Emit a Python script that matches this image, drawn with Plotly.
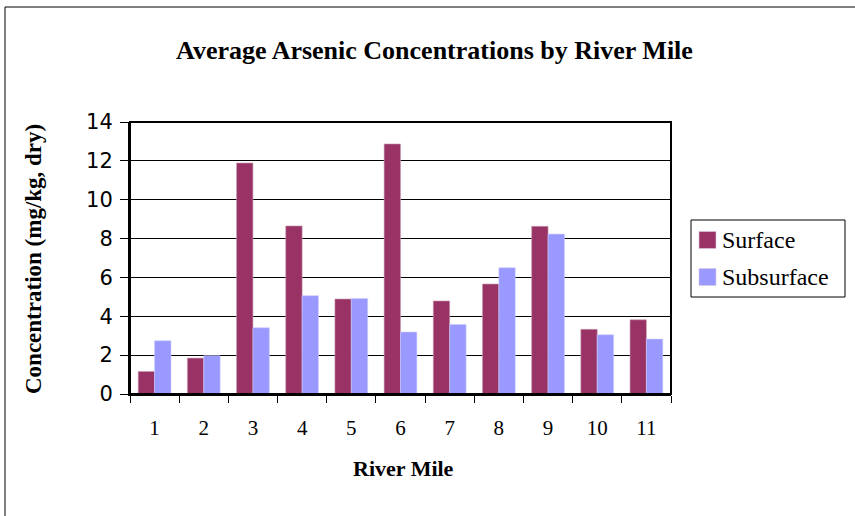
import plotly.graph_objects as go

# Average arsenic concentration (mg/kg, dry) per river mile
river_miles = ["1", "2", "3", "4", "5", "6", "7", "8", "9", "10", "11"]
surface = [1.16, 1.85, 11.89, 8.65, 4.89, 12.87, 4.79, 5.66, 8.63, 3.33, 3.82]
subsurface = [2.74, 1.97, 3.41, 5.06, 4.92, 3.19, 3.58, 6.50, 8.23, 3.05, 2.83]
y_ticks = [0, 2, 4, 6, 8, 10, 12, 14]
series_names = ["Surface", "Subsurface"]
series_colors = ["#993366", "#9999ff"]

SERIF = "Liberation Serif, Times New Roman, serif"
SANS = "DejaVu Sans, Arial, sans-serif"

W, H = 855, 516
ML, MR, MT, MB = 130, 184, 122, 122
PW, PH = W - ML - MR, H - MT - MB


def px(x):
    """Page pixel column -> paper x."""
    return (x - ML) / PW


def py(y):
    """Page pixel row -> paper y."""
    return (H - MB - y) / PH


fig = go.Figure()
fig.add_trace(go.Bar(x=river_miles, y=surface, name=series_names[0], showlegend=False,
                     marker=dict(color=series_colors[0], line=dict(color="#c8a0b4", width=0.6))))
fig.add_trace(go.Bar(x=river_miles, y=subsurface, name=series_names[1], showlegend=False,
                     marker=dict(color=series_colors[1], line=dict(color="#ccccff", width=0.6))))

fig.update_layout(
    width=W, height=H,
    margin=dict(l=ML, r=MR, t=MT, b=MB),
    paper_bgcolor="white", plot_bgcolor="white",
    barmode="group", bargap=1/3, bargroupgap=0,
    title=dict(text="<b>Average Arsenic Concentrations by River Mile</b>",
               x=434.5 / W, xanchor="center", y=1 - 50 / H, yanchor="middle",
               font=dict(family=SERIF, size=26, color="black")),
    showlegend=False,
)

fig.update_xaxes(type="category", showline=True, linecolor="black", linewidth=2,
                 ticks="outside", tickson="boundaries", ticklen=7,
                 tickcolor="black", tickwidth=1, showgrid=False, ticklabelstandoff=14,
                 tickfont=dict(family=SERIF, size=21, color="black"))
fig.update_yaxes(range=[0, 14], tickvals=y_ticks, showline=True, linecolor="black",
                 linewidth=2, ticks="outside", ticklen=8, tickcolor="black",
                 showgrid=True, gridcolor="black", gridwidth=1, zeroline=False,
                 ticklabelstandoff=3,
                 tickfont=dict(family=SANS, size=21, color="black"))

# Plot-area frame on top and right
fig.add_shape(type="rect", xref="paper", yref="paper", x0=0, x1=1, y0=0, y1=1,
              line=dict(color="black", width=2), layer="above")

# Outer chart border (runs off the right and bottom of the page)
fig.add_shape(type="rect", xref="paper", yref="paper",
              x0=px(5), x1=px(W + 20), y0=py(H + 20), y1=py(7),
              line=dict(color="black", width=1))

# Legend box with square swatches
fig.add_shape(type="rect", xref="paper", yref="paper",
              x0=px(691), x1=px(845), y0=py(297), y1=py(220),
              line=dict(color="black", width=1), fillcolor="white")
legend_rows = [240, 277]
for name, color, yc in zip(series_names, series_colors, legend_rows):
    fig.add_shape(type="rect", xref="paper", yref="paper",
                  x0=px(699), x1=px(716), y0=py(yc + 8.5), y1=py(yc - 8.5),
                  line=dict(color="#d8c8e0", width=0.6), fillcolor=color)
    fig.add_annotation(text=name, xref="paper", yref="paper", x=px(720), y=py(yc),
                       xanchor="left", yanchor="middle", showarrow=False,
                       font=dict(family=SERIF, size=24, color="black"))

fig.add_annotation(text="<b>Concentration (mg/kg, dry)</b>", textangle=-90,
                   xref="paper", yref="paper", x=px(33), y=py(259),
                   xanchor="center", yanchor="middle", showarrow=False,
                   font=dict(family=SERIF, size=23, color="black"))
fig.add_annotation(text="<b>River Mile</b>",
                   xref="paper", yref="paper", x=px(403.5), y=py(468),
                   xanchor="center", yanchor="middle", showarrow=False,
                   font=dict(family=SERIF, size=22, color="black"))

fig.write_html("out.html")
